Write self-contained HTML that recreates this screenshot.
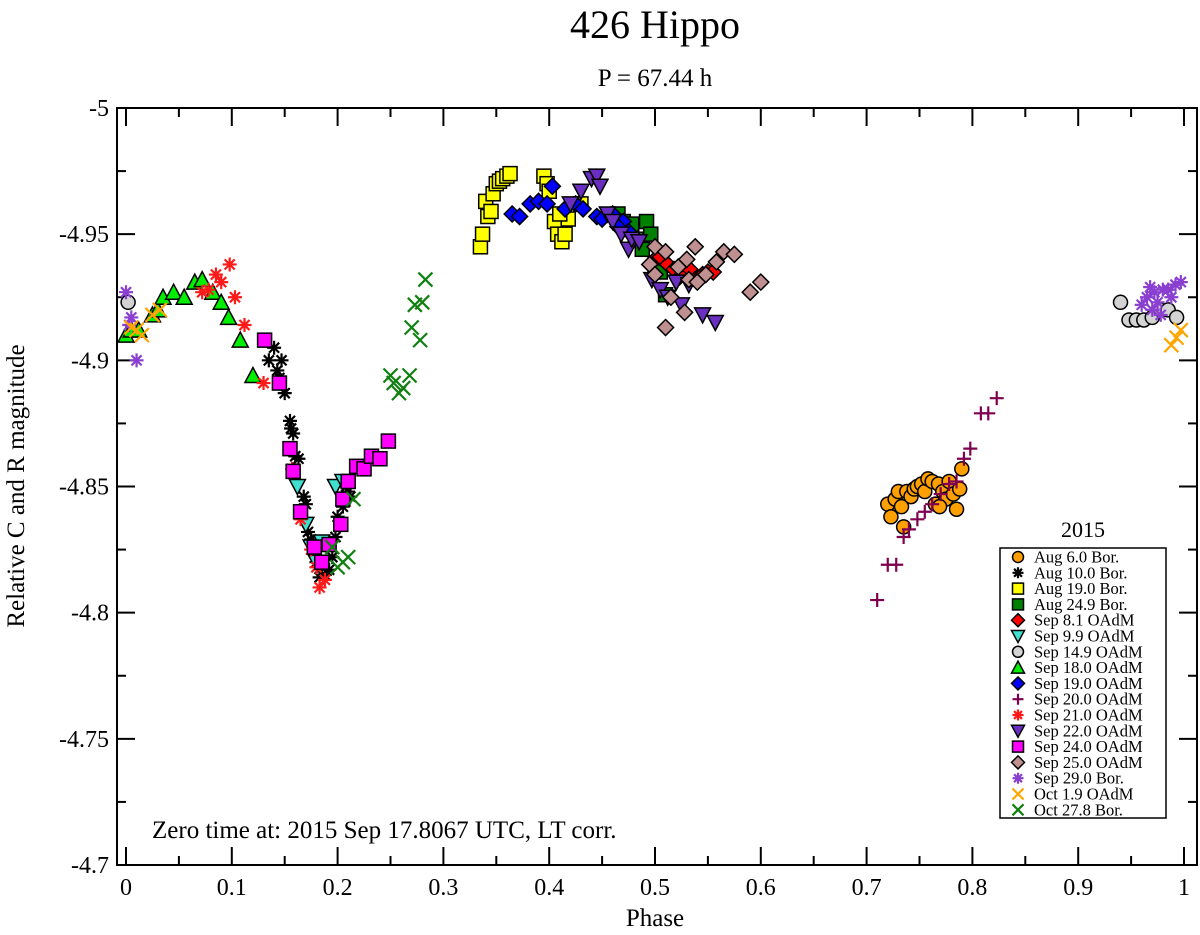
<!DOCTYPE html>
<html><head><meta charset="utf-8"><style>
body{margin:0;background:#fff;}
svg{display:block;font-family:"Liberation Serif",serif;}
</style></head><body>
<svg id="chart" width="1200" height="935" viewBox="0 0 1200 935">
<text x="655" y="38" font-size="40" text-anchor="middle">426 Hippo</text>
<text x="655" y="86" font-size="25" text-anchor="middle">P = 67.44 h</text>
<text x="655" y="926" font-size="25" text-anchor="middle">Phase</text>
<text transform="translate(24,486) rotate(-90)" font-size="25" text-anchor="middle">Relative C and R magnitude</text>
<text x="152" y="838" font-size="25">Zero time at: 2015 Sep 17.8067 UTC, LT corr.</text>
<g id="axes"></g><g id="marks"></g><g id="legend"></g>
</svg>
<script>
const xTicks=[0,0.1,0.2,0.3,0.4,0.5,0.6,0.7,0.8,0.9,1];
const xTickLabels=["0","0.1","0.2","0.3","0.4","0.5","0.6","0.7","0.8","0.9","1"];
const yTicks=[-5,-4.95,-4.9,-4.85,-4.8,-4.75,-4.7];
const yTickLabels=["-5","-4.95","-4.9","-4.85","-4.8","-4.75","-4.7"];
const seriesNames=["Aug 6.0 Bor.","Aug 10.0 Bor.","Aug 19.0 Bor.","Aug 24.9 Bor.","Sep 8.1 OAdM","Sep 9.9 OAdM","Sep 14.9 OAdM","Sep 18.0 OAdM","Sep 19.0 OAdM","Sep 20.0 OAdM","Sep 21.0 OAdM","Sep 22.0 OAdM","Sep 24.0 OAdM","Sep 25.0 OAdM","Sep 29.0 Bor.","Oct 1.9 OAdM","Oct 27.8 Bor."];
const aug6=[[0.720,-4.843],[0.723,-4.838],[0.727,-4.845],[0.730,-4.848],[0.733,-4.842],[0.735,-4.834],[0.738,-4.848],[0.742,-4.846],[0.745,-4.849],[0.748,-4.850],[0.752,-4.851],[0.755,-4.848],[0.758,-4.853],[0.762,-4.852],[0.765,-4.843],[0.768,-4.851],[0.772,-4.848],[0.775,-4.845],[0.778,-4.852],[0.782,-4.847],[0.785,-4.841],[0.788,-4.849],[0.790,-4.857],[0.769,-4.842]];
const aug10=[[0.135,-4.900],[0.140,-4.905],[0.143,-4.896],[0.145,-4.893],[0.147,-4.900],[0.150,-4.887],[0.155,-4.876],[0.156,-4.873],[0.158,-4.871],[0.160,-4.862],[0.163,-4.861],[0.168,-4.846],[0.170,-4.843],[0.172,-4.832],[0.175,-4.829],[0.178,-4.824],[0.180,-4.820],[0.185,-4.818],[0.188,-4.815],[0.192,-4.817],[0.195,-4.822],[0.198,-4.830],[0.200,-4.838],[0.205,-4.842],[0.208,-4.850],[0.210,-4.848],[0.212,-4.846],[0.183,-4.814]];
const aug19=[[0.335,-4.945],[0.337,-4.950],[0.340,-4.963],[0.342,-4.957],[0.345,-4.959],[0.347,-4.966],[0.350,-4.970],[0.353,-4.971],[0.356,-4.972],[0.360,-4.973],[0.363,-4.974],[0.395,-4.973],[0.398,-4.970],[0.400,-4.967],[0.405,-4.955],[0.408,-4.950],[0.412,-4.947],[0.415,-4.950],[0.418,-4.956],[0.410,-4.958],[0.430,-4.962]];
const aug24=[[0.465,-4.958],[0.470,-4.955],[0.478,-4.954],[0.482,-4.948],[0.488,-4.944],[0.492,-4.955],[0.496,-4.950],[0.500,-4.938],[0.505,-4.935],[0.510,-4.926]];
const sep8=[[0.500,-4.940],[0.505,-4.941],[0.512,-4.938],[0.518,-4.936],[0.523,-4.933],[0.528,-4.934],[0.533,-4.936],[0.538,-4.932],[0.545,-4.934],[0.550,-4.935],[0.555,-4.935]];
const sep9=[[0.162,-4.850],[0.170,-4.835],[0.175,-4.826],[0.180,-4.820],[0.185,-4.828],[0.198,-4.850],[0.205,-4.852]];
const sep14=[[0.002,-4.923],[0.940,-4.923],[0.948,-4.916],[0.955,-4.916],[0.962,-4.916],[0.970,-4.917],[0.978,-4.920],[0.985,-4.920],[0.993,-4.917]];
const sep18=[[0.000,-4.910],[0.005,-4.912],[0.012,-4.912],[0.025,-4.918],[0.030,-4.920],[0.035,-4.925],[0.045,-4.927],[0.055,-4.925],[0.065,-4.931],[0.072,-4.932],[0.082,-4.927],[0.090,-4.923],[0.097,-4.917],[0.108,-4.908],[0.120,-4.894]];
const sep19=[[0.365,-4.958],[0.372,-4.957],[0.382,-4.962],[0.390,-4.963],[0.398,-4.962],[0.403,-4.969],[0.415,-4.960],[0.425,-4.962],[0.432,-4.960],[0.445,-4.957],[0.450,-4.956],[0.460,-4.958],[0.470,-4.955],[0.465,-4.953],[0.475,-4.951]];
const sep20=[[0.710,-4.805],[0.720,-4.819],[0.728,-4.819],[0.735,-4.830],[0.740,-4.833],[0.748,-4.837],[0.755,-4.840],[0.762,-4.843],[0.770,-4.847],[0.778,-4.851],[0.785,-4.852],[0.792,-4.861],[0.798,-4.865],[0.808,-4.879],[0.815,-4.879],[0.823,-4.885]];
const sep21=[[0.072,-4.927],[0.078,-4.928],[0.085,-4.934],[0.090,-4.931],[0.098,-4.938],[0.103,-4.925],[0.112,-4.914],[0.130,-4.891],[0.157,-4.857],[0.165,-4.837],[0.175,-4.825],[0.180,-4.818],[0.183,-4.810],[0.188,-4.813]];
const sep22=[[0.420,-4.962],[0.430,-4.967],[0.440,-4.972],[0.445,-4.973],[0.448,-4.969],[0.455,-4.958],[0.460,-4.955],[0.468,-4.950],[0.475,-4.944],[0.478,-4.948],[0.485,-4.947],[0.497,-4.932],[0.505,-4.928],[0.512,-4.925],[0.520,-4.931],[0.525,-4.922],[0.532,-4.930],[0.545,-4.918],[0.557,-4.915]];
const sep24=[[0.131,-4.908],[0.145,-4.891],[0.155,-4.865],[0.158,-4.856],[0.165,-4.840],[0.178,-4.826],[0.185,-4.820],[0.192,-4.827],[0.203,-4.835],[0.205,-4.845],[0.210,-4.852],[0.218,-4.858],[0.225,-4.857],[0.232,-4.862],[0.240,-4.861],[0.248,-4.868]];
const sep25=[[0.495,-4.938],[0.500,-4.945],[0.500,-4.934],[0.510,-4.943],[0.510,-4.913],[0.515,-4.925],[0.522,-4.937],[0.528,-4.919],[0.530,-4.940],[0.532,-4.932],[0.538,-4.945],[0.540,-4.931],[0.548,-4.934],[0.558,-4.939],[0.565,-4.943],[0.575,-4.942],[0.590,-4.927],[0.600,-4.931]];
const sep29=[[0.000,-4.927],[0.005,-4.917],[0.003,-4.914],[0.010,-4.900],[0.960,-4.922],[0.965,-4.925],[0.968,-4.929],[0.970,-4.920],[0.972,-4.927],[0.975,-4.923],[0.978,-4.918],[0.980,-4.928],[0.985,-4.928],[0.988,-4.925],[0.992,-4.930],[0.997,-4.931]];
const oct1=[[0.005,-4.913],[0.010,-4.912],[0.015,-4.910],[0.025,-4.918],[0.032,-4.920],[0.988,-4.906],[0.993,-4.909],[0.997,-4.912]];
const oct27=[[0.195,-4.826],[0.200,-4.818],[0.205,-4.820],[0.210,-4.822],[0.215,-4.845],[0.250,-4.894],[0.253,-4.891],[0.258,-4.887],[0.262,-4.889],[0.268,-4.894],[0.270,-4.913],[0.273,-4.922],[0.278,-4.908],[0.280,-4.923],[0.283,-4.932]];

const NS="http://www.w3.org/2000/svg";
const L=117,R=1197,T=108,B=865,X0=126,X1=1184;
const xs=v=>X0+(v-0)*(X1-X0);
const ys=v=>T+(v+5)/0.3*(B-T);
function mk(tag,attrs,parent){const e=document.createElementNS(NS,tag);for(const k in attrs)e.setAttribute(k,attrs[k]);parent.appendChild(e);return e;}
const axes=document.getElementById('axes');
const frame=mk('rect',{x:L,y:T,width:R-L,height:B-T,fill:'none',stroke:'#000','stroke-width':2},axes);


xTicks.forEach((v,i)=>{
  const x=xs(v);
  const t1=mk('line',{x1:x,y1:B,x2:x,y2:B-18,stroke:'#000','stroke-width':2},axes);
  
  
  mk('line',{x1:x,y1:T,x2:x,y2:T+18,stroke:'#000','stroke-width':2},axes);
  const tl=mk('text',{x:x,y:B+30,'font-size':24,'text-anchor':'middle'},axes);
  tl.textContent=xTickLabels[i];
  
  
  if(i<xTicks.length-1){const xm=xs(v+0.05);
    mk('line',{x1:xm,y1:B,x2:xm,y2:B-9,stroke:'#000','stroke-width':2},axes);
    mk('line',{x1:xm,y1:T,x2:xm,y2:T+9,stroke:'#000','stroke-width':2},axes);}
});
yTicks.forEach((v,i)=>{
  const y=ys(v);
  const t1=mk('line',{x1:L,y1:y,x2:L+18,y2:y,stroke:'#000','stroke-width':2},axes);
  
  
  mk('line',{x1:R,y1:y,x2:R-18,y2:y,stroke:'#000','stroke-width':2},axes);
  const tl=mk('text',{x:L-8,y:y+8,'font-size':24,'text-anchor':'end'},axes);
  tl.textContent=yTickLabels[i];
  
  
  if(i<yTicks.length-1){const ym=ys(v+0.025);
    mk('line',{x1:L,y1:ym,x2:L+9,y2:ym,stroke:'#000','stroke-width':2},axes);
    mk('line',{x1:R,y1:ym,x2:R-9,y2:ym,stroke:'#000','stroke-width':2},axes);}
});
function marker(g,type,color,x,y,s){
  const h=s/2;
  if(type==='circle')return mk('circle',{cx:x,cy:y,r:h,fill:color,stroke:'#000','stroke-width':1.5},g);
  if(type==='square')return mk('rect',{x:x-h,y:y-h,width:s,height:s,fill:color,stroke:'#000','stroke-width':1.5},g);
  if(type==='diamond')return mk('polygon',{points:`${x},${y-h-1} ${x+h+1},${y} ${x},${y+h+1} ${x-h-1},${y}`,fill:color,stroke:'#000','stroke-width':1.5},g);
  if(type==='tup')return mk('polygon',{points:`${x},${y-h-1} ${x+h+1},${y+h} ${x-h-1},${y+h}`,fill:color,stroke:'#000','stroke-width':1.5},g);
  if(type==='tdown')return mk('polygon',{points:`${x},${y+h+1} ${x+h+1},${y-h} ${x-h-1},${y-h}`,fill:color,stroke:'#000','stroke-width':1.5},g);
  if(type==='plus')return mk('path',{d:`M${x-h} ${y}H${x+h}M${x} ${y-h}V${y+h}`,stroke:color,'stroke-width':2.2,fill:'none'},g);
  if(type==='x')return mk('path',{d:`M${x-h} ${y-h}L${x+h} ${y+h}M${x+h} ${y-h}L${x-h} ${y+h}`,stroke:color,'stroke-width':2.2,fill:'none'},g);
  if(type==='star'){const d=h*0.72;return mk('path',{d:`M${x-h} ${y}H${x+h}M${x} ${y-h}V${y+h}M${x-d} ${y-d}L${x+d} ${y+d}M${x+d} ${y-d}L${x-d} ${y+d}`,stroke:color,'stroke-width':2.2,fill:'none'},g);}
}
const seriesData=[aug6,aug10,aug19,aug24,sep8,sep9,sep14,sep18,sep19,sep20,sep21,sep22,sep24,sep25,sep29,oct1,oct27];
const styles=[['circle','#ff9f00'],['star','#000'],['square','#ffff00'],['square','#008000'],['diamond','#ff0000'],['tdown','#40e0d0'],['circle','#d3d3d3'],['tup','#00ee00'],['diamond','#0000ff'],['plus','#800050'],['star','#ff1a1a'],['tdown','#6a2fc0'],['square','#ff00ff'],['diamond','#c09090'],['star','#8a3fd0'],['x','#ffa500'],['x','#108010']];
const marks=document.getElementById('marks');
seriesData.forEach((arr,si)=>{
  const g=mk('g',{},marks);
  
  
  arr.forEach(p=>{
    const m=marker(g,styles[si][0],styles[si][1],xs(p[0]),ys(p[1]),14);
    
    
  });
});
const lg=document.getElementById('legend');


const lt=mk('text',{x:1083,y:537,'font-size':22,'text-anchor':'middle'},lg);
lt.textContent='2015';


mk('rect',{x:1000,y:548,width:166,height:270,fill:'#fff',stroke:'#000','stroke-width':1.5},lg);
seriesNames.forEach((n,i)=>{
  const y=557+i*15.8;
  const g=mk('g',{},lg);
  
  
  marker(g,styles[i][0],styles[i][1],1018,y,11);
  const t=mk('text',{x:1034,y:y+5.5,'font-size':16.5},g);
  t.textContent=n;
});
</script>
</body></html>
